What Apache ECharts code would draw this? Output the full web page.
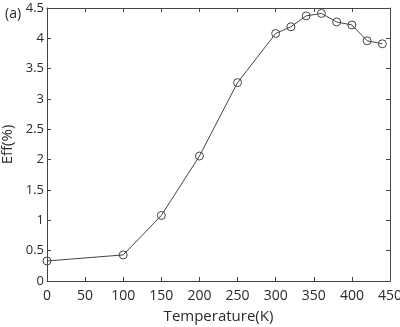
<!DOCTYPE html>
<html>
<head>
<meta charset="utf-8">
<script src="https://cdn.jsdelivr.net/npm/echarts@6/dist/echarts.min.js"></script>
<style>
  html, body { margin: 0; padding: 0; background: #fff; }
  #chart { width: 400px; height: 327px; }
</style>
</head>
<body>
<div id="chart"></div>
<script>
// temperature (K) and efficiency (%)
var temps = [0, 100, 150, 200, 250, 300, 320, 340, 360, 380, 400, 420, 440];
var effs = [0.33, 0.43, 1.08, 2.06, 3.27, 4.08, 4.19, 4.37, 4.41, 4.27, 4.22, 3.96, 3.91];

var FONT = 'Open Sans';
var TEXT = '#2a2a2a';
var LINE = '#444';

var points = [];
for (var i = 0; i < temps.length; i++) {
    points.push([temps[i], effs[i]]);
}

// shared axis look: box frame, inward ticks
function axisBase(extra) {
    var base = {
        axisLine: { show: true, onZero: false, lineStyle: { color: LINE, width: 1 } },
        axisTick: { show: true, inside: true, length: 4, lineStyle: { color: LINE } },
        splitLine: { show: false }
    };
    for (var k in extra) { base[k] = extra[k]; }
    return base;
}

var chart = echarts.init(document.getElementById('chart'));
chart.setOption({
    animation: false,
    grid: { left: 47, right: 10, top: 8, bottom: 46, outerBoundsMode: 'none', containLabel: false },
    title: {
        text: '(a)', left: 0, top: 2,
        textStyle: { fontFamily: FONT, fontSize: 14, fontWeight: 'normal', color: TEXT }
    },
    xAxis: [
        axisBase({
            type: 'value', min: 0, max: 450, interval: 50, position: 'bottom',
            name: 'Temperature(K)', nameLocation: 'middle', nameGap: 28,
            nameTextStyle: { fontFamily: FONT, fontSize: 15, color: TEXT },
            axisLabel: { fontFamily: FONT, fontSize: 14, color: TEXT, margin: 8 }
        }),
        axisBase({
            type: 'value', min: 0, max: 450, interval: 50, position: 'top',
            axisLabel: { show: false }
        })
    ],
    yAxis: [
        axisBase({
            type: 'value', min: 0, max: 4.5, interval: 0.5, position: 'left',
            name: 'Eff(%)', nameLocation: 'middle', nameGap: 26,
            nameTextStyle: { fontFamily: FONT, fontSize: 15, color: TEXT },
            axisLabel: { fontFamily: FONT, fontSize: 13, color: TEXT, margin: 3 }
        }),
        axisBase({
            type: 'value', min: 0, max: 4.5, interval: 0.5, position: 'right',
            axisLabel: { show: false }
        })
    ],
    series: [{
        type: 'line',
        data: points,
        symbol: 'circle',
        symbolSize: 8,
        showAllSymbol: true,
        lineStyle: { color: LINE, width: 1 },
        itemStyle: { color: 'rgba(255,255,255,0)', borderColor: LINE, borderWidth: 1 }
    }]
});
</script>
</body>
</html>
